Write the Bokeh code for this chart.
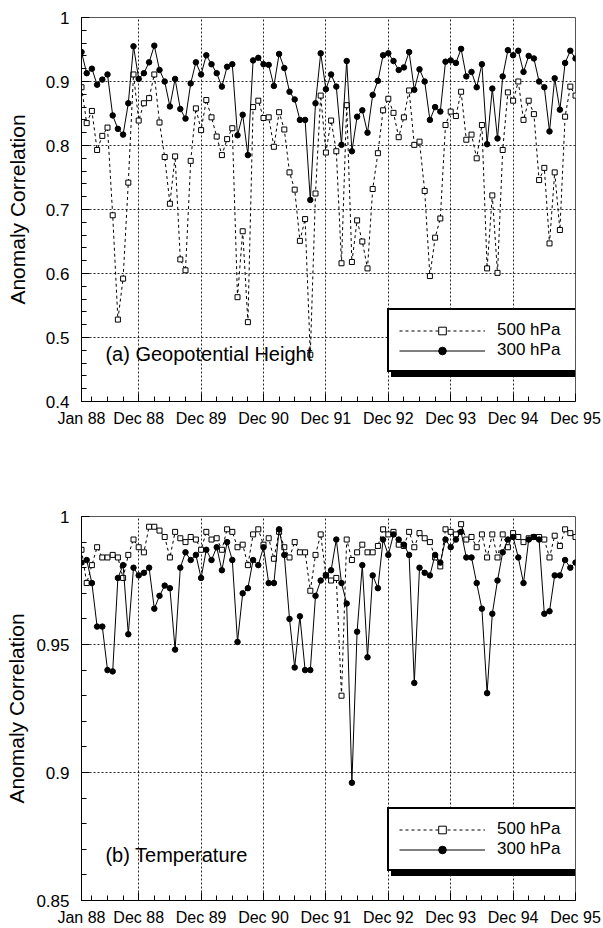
from bokeh.plotting import figure
from bokeh.layouts import column
from bokeh.models import (FixedTicker, Legend, LegendItem, Label, Range1d)
from bokeh.core.properties import value
from bokeh.embed import file_html
from bokeh.resources import INLINE

# ---------------- data ----------------
months = list(range(96))  # Jan 88 .. Dec 95
tick_months = [0, 11, 23, 35, 47, 59, 71, 83, 95]
tick_labels = ["Jan 88", "Dec 88", "Dec 89", "Dec 90", "Dec 91",
               "Dec 92", "Dec 93", "Dec 94", "Dec 95"]

geo_300 = [0.946, 0.913, 0.920, 0.895, 0.903, 0.911, 0.847, 0.826, 0.817, 0.866, 0.955, 0.904,
           0.913, 0.930, 0.956, 0.918, 0.900, 0.861, 0.904, 0.857, 0.842, 0.897, 0.930, 0.911,
           0.941, 0.927, 0.913, 0.892, 0.923, 0.927, 0.816, 0.848, 0.785, 0.933, 0.937, 0.927,
           0.926, 0.893, 0.943, 0.921, 0.884, 0.872, 0.840, 0.840, 0.715, 0.866, 0.944, 0.888,
           0.911, 0.892, 0.801, 0.932, 0.791, 0.845, 0.855, 0.820, 0.879, 0.901, 0.941, 0.944,
           0.932, 0.918, 0.922, 0.946, 0.887, 0.919, 0.900, 0.840, 0.860, 0.853, 0.931, 0.933,
           0.929, 0.951, 0.908, 0.915, 0.891, 0.927, 0.802, 0.889, 0.811, 0.908, 0.949, 0.941,
           0.948, 0.915, 0.940, 0.936, 0.900, 0.891, 0.822, 0.905, 0.856, 0.929, 0.948, 0.936]

geo_500 = [0.891, 0.835, 0.854, 0.793, 0.815, 0.828, 0.691, 0.528, 0.592, 0.742, 0.911, 0.839,
           0.866, 0.874, 0.911, 0.836, 0.782, 0.709, 0.783, 0.622, 0.605, 0.776, 0.858, 0.824,
           0.871, 0.844, 0.814, 0.785, 0.810, 0.827, 0.563, 0.666, 0.524, 0.860, 0.870, 0.843,
           0.844, 0.798, 0.852, 0.825, 0.758, 0.731, 0.651, 0.685, 0.473, 0.725, 0.878, 0.789,
           0.839, 0.791, 0.616, 0.863, 0.618, 0.683, 0.650, 0.608, 0.732, 0.788, 0.855, 0.873,
           0.851, 0.813, 0.844, 0.886, 0.801, 0.806, 0.729, 0.596, 0.656, 0.686, 0.832, 0.853,
           0.846, 0.884, 0.809, 0.817, 0.780, 0.832, 0.608, 0.722, 0.601, 0.793, 0.883, 0.870,
           0.900, 0.840, 0.870, 0.849, 0.746, 0.765, 0.647, 0.758, 0.668, 0.845, 0.892, 0.878]

temp_300 = [0.982, 0.983, 0.974, 0.957, 0.957, 0.940, 0.9395, 0.976, 0.981, 0.954, 0.980, 0.977,
            0.978, 0.980, 0.964, 0.969, 0.973, 0.972, 0.948, 0.980, 0.986, 0.983, 0.985, 0.976,
            0.987, 0.983, 0.988, 0.979, 0.990, 0.983, 0.951, 0.970, 0.972, 0.983, 0.981, 0.988,
            0.974, 0.974, 0.995, 0.985, 0.960, 0.941, 0.961, 0.940, 0.940, 0.969, 0.975, 0.977,
            0.979, 0.991, 0.974, 0.966, 0.896, 0.955, 0.981, 0.945, 0.977, 0.972, 0.991, 0.985,
            0.993, 0.991, 0.989, 0.985, 0.935, 0.980, 0.978, 0.977, 0.985, 0.982, 0.991, 0.988,
            0.991, 0.994, 0.984, 0.984, 0.974, 0.964, 0.931, 0.962, 0.975, 0.986, 0.991, 0.992,
            0.984, 0.974, 0.991, 0.992, 0.991, 0.962, 0.963, 0.977, 0.977, 0.983, 0.980, 0.982]

temp_500 = [0.987, 0.974, 0.981, 0.988, 0.984, 0.984, 0.985, 0.984, 0.976, 0.985, 0.991, 0.988,
            0.986, 0.996, 0.996, 0.9945, 0.992, 0.984, 0.994, 0.9915, 0.990, 0.992, 0.991, 0.987,
            0.994, 0.991, 0.9915, 0.987, 0.995, 0.994, 0.988, 0.989, 0.981, 0.993, 0.995, 0.989,
            0.9915, 0.9835, 0.994, 0.988, 0.984, 0.990, 0.986, 0.986, 0.971, 0.985, 0.993, 0.977,
            0.975, 0.976, 0.930, 0.991, 0.983, 0.986, 0.989, 0.986, 0.986, 0.9885, 0.995, 0.993,
            0.994, 0.989, 0.9885, 0.994, 0.988, 0.9935, 0.9915, 0.990, 0.984, 0.9805, 0.995, 0.994,
            0.993, 0.997, 0.991, 0.992, 0.988, 0.993, 0.984, 0.993, 0.984, 0.993, 0.988, 0.9935,
            0.992, 0.990, 0.9915, 0.992, 0.992, 0.991, 0.984, 0.9925, 0.9885, 0.995, 0.9935, 0.992]

series_labels = ["500 hPa", "300 hPa"]

geo_yticks = [0.4, 0.5, 0.6, 0.7, 0.8, 0.9, 1.0]
geo_ylabels = ["0.4", "0.5", "0.6", "0.7", "0.8", "0.9", "1"]
temp_yticks = [0.85, 0.9, 0.95, 1.0]
temp_ylabels = ["0.85", "0.9", "0.95", "1"]

FONT = "Liberation Sans"


def legend_box(items, loc, shadow=False):
    col = "black" if shadow else "white"
    return Legend(items=items, location=loc, orientation="vertical",
                  label_text_font=FONT, label_text_font_size="17px",
                  label_text_color="black", glyph_width=86, glyph_height=19,
                  label_height=19, label_width=73, label_standoff=12,
                  spacing=0, padding=10, margin=0,
                  border_line_color="black", border_line_width=2,
                  border_line_alpha=1, background_fill_color=col,
                  background_fill_alpha=1)


def make_panel(height, top, bottom, yrange, yticks, ylabels, yminor_step,
               s500, s300, title, title_xy, label_standoff, legend_xy):
    p = figure(width=603, height=height, x_range=Range1d(0, 95),
               y_range=Range1d(*yrange), output_backend="svg",
               toolbar_location=None, min_border_left=81, min_border_right=28,
               min_border_top=top, min_border_bottom=bottom)
    p.background_fill_color = "white"
    p.border_fill_color = "white"
    p.outline_line_color = "#555555"
    p.outline_line_width = 1

    minor_x = [m for m in range(2, 96, 3) if m not in tick_months]
    p.xaxis.ticker = FixedTicker(ticks=tick_months, minor_ticks=minor_x)
    p.xaxis.major_label_overrides = {m: l for m, l in zip(tick_months, tick_labels)}
    n_minor = int(round((yrange[1] - yrange[0]) / yminor_step))
    minor_y = [round(yrange[0] + i * yminor_step, 4) for i in range(n_minor + 1)]
    p.yaxis.ticker = FixedTicker(ticks=yticks, minor_ticks=minor_y)
    p.yaxis.major_label_overrides = {t: l for t, l in zip(yticks, ylabels)}

    for ax in (p.xaxis, p.yaxis):
        ax.axis_line_color = "black"
        ax.axis_line_width = 1
        ax.major_tick_in = 8
        ax.major_tick_out = 0
        ax.minor_tick_in = 5
        ax.minor_tick_out = 0
        ax.major_tick_line_color = "black"
        ax.minor_tick_line_color = "black"
        ax.major_label_text_font = FONT
        ax.major_label_text_color = "black"
    p.xaxis.major_label_text_font_size = "16px"
    p.xaxis.major_label_standoff = 8
    p.yaxis.major_label_text_font_size = "17px"
    p.yaxis.major_label_standoff = 12
    p.yaxis.axis_label = "Anomaly Correlation"
    p.yaxis.axis_label_text_font = FONT
    p.yaxis.axis_label_text_font_size = "21px"
    p.yaxis.axis_label_text_font_style = "normal"
    p.yaxis.axis_label_text_color = "black"
    p.yaxis.axis_label_standoff = label_standoff

    for g in (p.xgrid, p.ygrid):
        g.grid_line_color = "black"
        g.grid_line_dash = "2 2"
        g.grid_line_width = 1
        g.grid_line_alpha = 0.85

    r5l = p.line(months, s500, line_color="black", line_width=1, line_dash="3 3")
    r5s = p.scatter(months, s500, marker="square", size=5, fill_color="white",
                    line_color="black", line_width=1)
    r3l = p.line(months, s300, line_color="black", line_width=1)
    r3s = p.scatter(months, s300, marker="circle", size=5.5, fill_color="black",
                    line_color="black")

    p.add_layout(Label(x=title_xy[0], y=title_xy[1], text=title,
                       text_baseline="middle", text_font=FONT,
                       text_font_size="20px", text_color="black"))

    # drop shadow: an empty black copy of the legend box, offset right/down
    shadow_items = [LegendItem(label=value(""), renderers=[r5l, r5s]),
                    LegendItem(label=value(""), renderers=[r3l, r3s])]
    p.add_layout(legend_box(shadow_items, (legend_xy[0] + 4, legend_xy[1] - 5),
                            shadow=True), "center")
    items = [LegendItem(label=series_labels[0], renderers=[r5l, r5s]),
             LegendItem(label=series_labels[1], renderers=[r3l, r3s])]
    p.add_layout(legend_box(items, legend_xy), "center")
    return p


p1 = make_panel(458, 17, 57, (0.4, 1.0), geo_yticks, geo_ylabels, 0.02,
                geo_500, geo_300, "(a) Geopotential Height", (4.6, 0.4745), 14,
                (306, 29))
p2 = make_panel(470, 58, 28, (0.85, 1.0), temp_yticks, temp_ylabels, 0.01,
                temp_500, temp_300, "(b) Temperature", (4.6, 0.8676), 5,
                (306, 29))

layout = column(p1, p2, spacing=0)
open("out.html", "w").write(file_html(layout, INLINE))
